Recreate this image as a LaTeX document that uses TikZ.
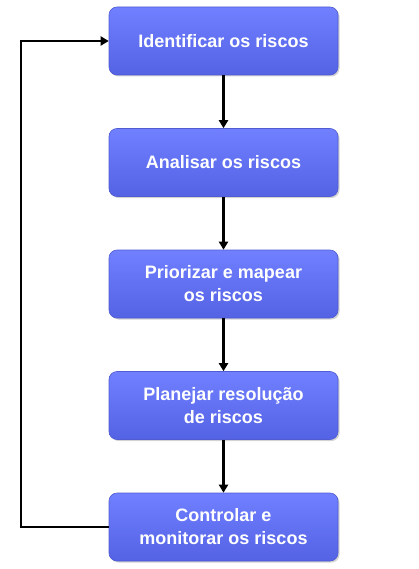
\documentclass[tikz,border=0pt]{standalone}
\usepackage{fontspec}
\setmainfont{Liberation Sans}
\usetikzlibrary{shadows,arrows.meta,calc}
\definecolor{boxtop}{RGB}{112,128,255}
\definecolor{boxbot}{RGB}{84,98,228}
\definecolor{boxedge}{RGB}{80,92,210}
\tikzset{
  stepbox/.style={draw=boxedge, line width=0.6pt, rounded corners=8pt,
    top color=boxtop, bottom color=boxbot, minimum width=229pt, minimum height=68pt,
    text=white, font=\bfseries\fontsize{18}{23}\selectfont, align=center,
    drop shadow={shadow xshift=1.5pt, shadow yshift=-1.5pt, opacity=0.35}},
  conn/.style={line width=2.6pt, -{Triangle[length=8pt,width=9pt]}},
}
\begin{document}
\begin{tikzpicture}[x=1pt,y=1pt]
\useasboundingbox (0,0) rectangle (419,-569);
\node[stepbox] (a) at (223.5,-41) {Identificar os riscos};
\node[stepbox] (b) at (223.5,-162.5) {Analisar os riscos};
\node[stepbox] (c) at (223.5,-284) {Priorizar e mapear\\os riscos};
\node[stepbox] (d) at (223.5,-405.5) {Planejar resolução\\de riscos};
\node[stepbox] (e) at (223.5,-527) {Controlar e\\monitorar os riscos};
\draw[conn] (a) -- (b);
\draw[conn] (b) -- (c);
\draw[conn] (c) -- (d);
\draw[conn] (d) -- (e);
\coordinate (lb) at (21,-527);
\coordinate (lt) at (21,-41);
\draw[conn] (e.west) -- (lb) -- (lt) -- (a.west);
\end{tikzpicture}
\end{document}
